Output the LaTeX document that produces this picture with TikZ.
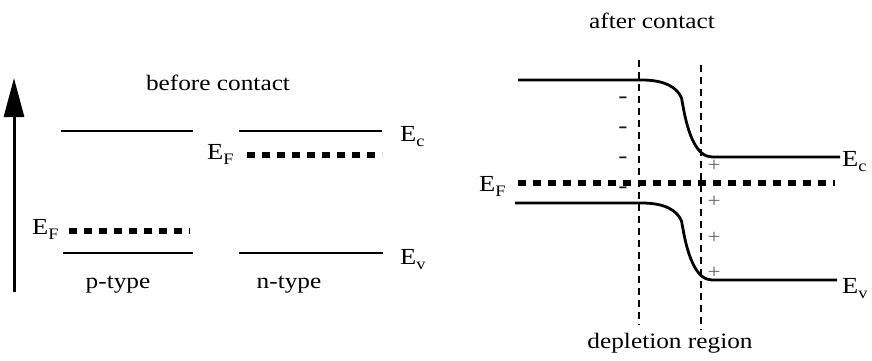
\documentclass[tikz,border=0pt]{standalone}
\usepackage{fontspec}
\setmainfont{Liberation Serif}[FakeStretch=1.15]
\usetikzlibrary{arrows.meta}
\newcommand\Esub[1]{E\raisebox{-5pt}{\fontsize{16}{16}\selectfont #1}}
\tikzset{
  band/.style={line width=2.8pt},
  fermi/.style={line width=5.5pt, dash pattern=on 8pt off 7pt},
  edge/.style={line width=2pt, dash pattern=on 7pt off 5pt},
  lab/.style={inner sep=0pt, anchor=base west, font=\fontsize{23}{23}\selectfont},
  txt/.style={inner sep=0pt, anchor=base, font=\fontsize{22}{22}\selectfont},
  plus/.style={inner sep=0pt, text=black!60, font=\fontsize{20}{20}\selectfont},
  minus/.style={inner sep=0pt, text=black!90, font=\fontsize{24}{24}\selectfont},
}
\begin{document}
\begin{tikzpicture}[x=1pt,y=-1pt]
\useasboundingbox (0,0) rectangle (872,360);
% energy axis
\coordinate (ab) at (14,292);
\coordinate (at) at (14,78);
\draw[line width=3pt,-{Triangle[width=20pt,length=39pt]}] (ab) -- (at);
% before contact
\node[txt] (tb) at (218,90) {before contact};
\coordinate (pc1) at (61,131);  \coordinate (pc2) at (193,131);
\coordinate (nc1) at (239,131); \coordinate (nc2) at (382,131);
\coordinate (pv1) at (63,253);  \coordinate (pv2) at (193,253);
\coordinate (nv1) at (239,253); \coordinate (nv2) at (383,253);
\coordinate (pf1) at (69,231);  \coordinate (pf2) at (190,231);
\coordinate (nf1) at (247,155); \coordinate (nf2) at (382,155);
\draw[band] (pc1) -- (pc2);
\draw[band] (nc1) -- (nc2);
\draw[band] (pv1) -- (pv2);
\draw[band] (nv1) -- (nv2);
\draw[fermi] (pf1) -- (pf2);
\draw[fermi] (nf1) -- (nf2);
\node[lab] (efp) at (32,234) {\Esub{F}};
\node[lab] (efn) at (207,159) {\Esub{F}};
\node[lab] (ecl) at (400,141) {\Esub{c}};
\node[lab] (evl) at (400,264) {\Esub{v}};
\node[txt] (pt) at (118,288) {p-type};
\node[txt] (nt) at (289,288) {n-type};
% after contact
\node[txt] (ta) at (652,28) {after contact};
\coordinate (d1t) at (639,60);  \coordinate (d1b) at (639,325);
\coordinate (d2t) at (701,65);  \coordinate (d2b) at (701,330);
\draw[edge] (d1t) -- (d1b);
\draw[edge] (d2t) -- (d2b);
\coordinate (uc0) at (518,80);  \coordinate (uc1) at (642,80);
\coordinate (uc2) at (712,157); \coordinate (uc3) at (840,157);
\draw[band] (uc0) -- (uc1) .. controls (664,80) and (677,87) .. (681.5,98)
  -- (683,106) .. controls (688,135) and (697,157) .. (uc2) -- (uc3);
\coordinate (lv0) at (515,203); \coordinate (lv1) at (642,203);
\coordinate (lv2) at (712,280); \coordinate (lv3) at (837,280);
\draw[band] (lv0) -- (lv1) .. controls (664,203) and (677,210) .. (681.5,221)
  -- (683,229) .. controls (688,258) and (697,280) .. (lv2) -- (lv3);
\coordinate (rf1) at (518,183); \coordinate (rf2) at (835,183);
\draw[fermi] (rf1) -- (rf2);
\node[lab] (efr) at (479,191) {\Esub{F}};
\node[lab] (ecr) at (842,166) {\Esub{c}};
\node[lab] (evr) at (842,293) {\Esub{v}};
\foreach \i/\y in {1/100,2/130,3/160,4/190} \node[minus] (m\i) at (623,\y) {-};
\foreach \i/\y in {1/166,2/202,3/238,4/273} \node[plus] (p\i) at (714,\y) {+};
\node[txt] (dr) at (670,348) {depletion region};
\end{tikzpicture}
\end{document}
